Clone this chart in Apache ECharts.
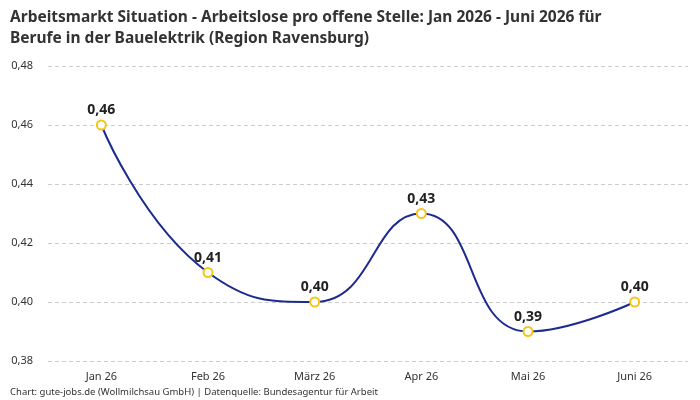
<!DOCTYPE html>
<html>
<head>
<meta charset="utf-8">
<script src="https://cdn.jsdelivr.net/npm/echarts@6/dist/echarts.min.js"></script>
<style>
	html, body { margin: 0; padding: 0; background: #fff; }
	#chart { width: 700px; height: 400px; }
</style>
</head>
<body>
<div id="chart"></div>
<script>
	const months = ['Jan 26', 'Feb 26', 'März 26', 'Apr 26', 'Mai 26', 'Juni 26']
	const ratio = [0.46, 0.41, 0.40, 0.43, 0.39, 0.40]
	const yTicks = { min: 0.38, max: 0.48, step: 0.02 }

	const font = '"Noto Sans", "Open Sans", sans-serif'
	const fmt = v => v.toFixed(2).replace('.', ',')

	let mychart = echarts.init(document.getElementById('chart'))
	mychart.setOption({
		animation: false,
		textStyle: { fontFamily: font },
		title: [{
			text: 'Arbeitsmarkt Situation - Arbeitslose pro offene Stelle: Jan 2026 - Juni 2026 für\nBerufe in der Bauelektrik (Region Ravensburg)',
			left: 5,
			top: 2,
			textStyle: { fontSize: 15.5, fontWeight: 'bold', color: '#333', lineHeight: 21, fontFamily: font }
		}, {
			text: 'Chart: gute-jobs.de (Wollmilchsau GmbH) | Datenquelle: Bundesagentur für Arbeit',
			left: 5,
			bottom: -2,
			textStyle: { fontSize: 9.5, fontWeight: 'normal', color: '#333', fontFamily: font }
		}],
		grid: { left: 48, right: 12, top: 66, bottom: 39 },
		xAxis: {
			type: 'category',
			data: months,
			axisLine: { show: false },
			axisTick: { show: false },
			axisLabel: { color: '#333', fontSize: 11, margin: 10 }
		},
		yAxis: {
			type: 'value',
			min: yTicks.min,
			max: yTicks.max,
			interval: yTicks.step,
			axisLabel: { color: '#333', fontSize: 11, margin: 15, formatter: v => fmt(v) },
			splitLine: { lineStyle: { type: [4, 3], color: '#ccc' } }
		},
		series: [{
			type: 'line',
			data: ratio,
			smooth: true,
			symbol: 'circle',
			symbolSize: 9,
			lineStyle: { color: '#1c2b8f', width: 2 },
			itemStyle: { color: '#fff', borderColor: '#f5c518', borderWidth: 2 },
			label: {
				show: true,
				position: 'top',
				distance: 2,
				fontSize: 14,
				fontWeight: 'bold',
				color: '#222',
				formatter: p => fmt(p.value)
			}
		}]
	})
</script>
</body>
</html>
